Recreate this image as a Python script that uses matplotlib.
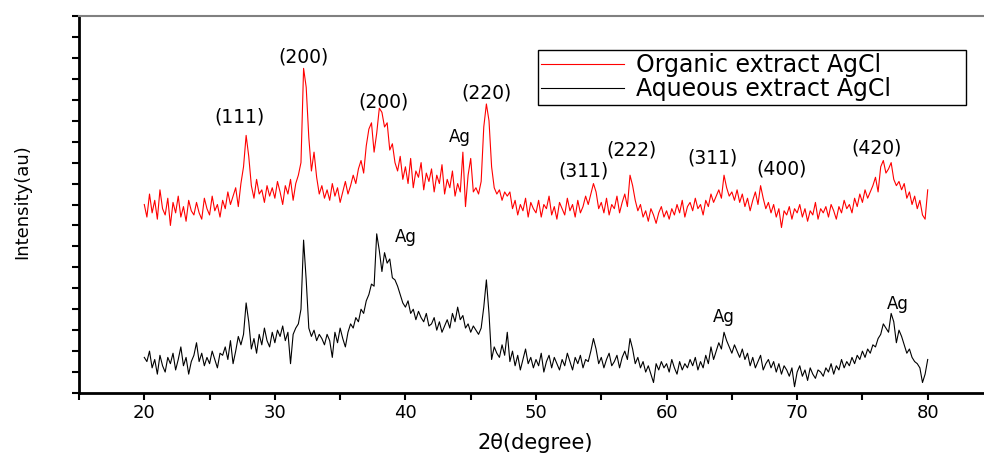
import numpy as np
import matplotlib
matplotlib.use("Agg")
import matplotlib.pyplot as plt

plt.rcParams['font.family'] = ['DejaVu Sans']

# 2-theta scan grid (degrees), 0.2 deg step
two_theta = np.linspace(20.0, 80.0, 301)

organic = [
    90, 84, 95, 86, 92, 83, 97, 88, 85, 93,
    80, 91, 86, 94, 84, 89, 82, 92, 87, 85,
    91, 86, 83, 93, 88, 85, 94, 87, 90, 84,
    92, 88, 96, 90, 94, 98, 89, 100, 108, 123,
    113, 99, 93, 102, 95, 97, 91, 99, 94, 98,
    93, 101, 96, 90, 99, 95, 102, 92, 100, 104,
    110, 155, 146, 122, 106, 115, 103, 95, 99, 93,
    97, 92, 100, 94, 98, 91, 96, 101, 95, 99,
    104, 100, 107, 111, 105, 118, 126, 129, 115, 124,
    136, 134, 127, 129, 116, 119, 110, 106, 113, 102,
    108, 100, 112, 98, 106, 103, 110, 97, 105, 101,
    107, 96, 104, 100, 109, 95, 102, 98, 106, 94,
    100, 96, 115, 89, 104, 112, 96, 98, 95, 101,
    127, 138, 130, 108, 98, 95, 97, 92, 96, 94,
    96, 88, 92, 85, 90, 87, 93, 84, 91, 88,
    86, 92, 84, 90, 88, 94, 85, 89, 83, 91,
    88, 85, 93, 87, 90, 84, 92, 86, 89, 94,
    90, 95, 100, 96, 88, 91, 86, 93, 85, 90,
    88, 94, 86, 91, 95, 89, 104, 99, 92, 87,
    90, 84, 87, 82, 88, 85, 81, 86, 89, 84,
    87, 83, 88, 85, 90, 86, 92, 84, 89, 91,
    87, 93, 88, 90, 85, 92, 89, 95, 91, 94,
    97, 93, 104, 98, 94, 96, 92, 97, 91, 95,
    89, 93, 87, 92, 96, 90, 99, 93, 88, 91,
    86, 90, 84, 88, 79, 87, 85, 89, 83, 88,
    86, 90, 84, 88, 82, 87, 85, 91, 83, 88,
    86, 89, 84, 90, 87, 83, 89, 86, 92, 88,
    90, 86, 93, 89, 95, 91, 97, 93, 96, 99,
    103, 96, 108, 111, 105, 107, 110, 102, 99, 101,
    97, 100, 93, 96, 90, 94, 88, 92, 85, 83,
    97,
]

aqueous = [
    17, 15, 20, 12, 16, 9, 18, 13, 10, 17,
    14, 19, 11, 16, 22, 13, 17, 9, 15, 18,
    24, 15, 19, 13, 17, 14, 20, 16, 12, 19,
    18, 22, 16, 25, 14, 20, 27, 23, 28, 43,
    34, 21, 26, 19, 28, 23, 31, 25, 22, 29,
    24, 30, 27, 32, 25, 29, 14, 28, 31, 33,
    40, 73, 54, 31, 27, 30, 25, 28, 26, 23,
    28, 25, 17, 29, 24, 31, 26, 22, 29, 33,
    31, 36, 34, 40, 38, 44, 47, 52, 51, 76,
    68, 58, 67, 62, 64, 55, 54, 51, 47, 43,
    41, 44, 38, 40, 35, 39, 36, 34, 38, 32,
    33, 36, 30, 34, 29, 32, 35, 31, 38, 34,
    41, 35, 37, 31, 33, 29, 32, 30, 28, 31,
    41, 54, 38, 16, 22, 19, 17, 23, 18, 29,
    15, 20, 13, 18, 11, 16, 21, 14, 17, 12,
    16, 13, 19, 10, 15, 18, 12, 17, 14, 11,
    16, 13, 19, 15, 11, 17, 14, 18, 12, 16,
    15, 20, 26, 21, 14, 17, 12, 16, 19, 13,
    15, 18, 12, 17, 20, 16, 26, 21, 14, 17,
    12, 15, 10, 13, 9, 5, 14, 11, 15, 12,
    14, 10, 16, 12, 9, 15, 11, 14, 12, 16,
    13, 17, 11, 15, 12, 18, 14, 22, 16, 20,
    24, 21, 29, 25, 22, 19, 23, 20, 17, 21,
    16, 19, 13, 17, 12, 15, 18, 11, 14, 16,
    12, 15, 10, 14, 9, 13, 11, 8, 12, 3,
    10, 13, 8, 11, 6, 12, 9, 7, 11, 10,
    8, 12, 10, 14, 9, 13, 11, 16, 12, 15,
    13, 17, 14, 18, 16, 20, 17, 21, 19, 23,
    22, 26, 28, 33, 31, 29, 38, 34, 24, 30,
    27, 23, 19, 21, 17, 15, 14, 12, 5, 9,
    16,
]

series_labels = ["Organic extract AgCl", "Aqueous extract AgCl"]
series_colors = ["#ff0000", "#000000"]

# peak annotations: (text, 2theta, intensity)
organic_peaks = [
    ("(111)", 27.3, 132), ("(200)", 32.2, 160.5), ("(200)", 38.3, 139),
    ("Ag", 44.2, 122), ("(220)", 46.2, 143), ("(311)", 53.6, 106),
    ("(222)", 57.3, 116), ("(311)", 63.5, 112), ("(400)", 68.8, 107),
    ("(420)", 76.1, 117),
]
aqueous_peaks = [("Ag", 40.0, 74.5), ("Ag", 64.4, 36.3), ("Ag", 77.7, 42.5)]

x_major = [20, 30, 40, 50, 60, 70, 80]
x_minor = [15, 25, 35, 45, 55, 65, 75, 85]

fig = plt.figure(figsize=(9.84, 4.55), dpi=100)
ax = fig.add_axes([79 / 984, 62 / 455, 914 / 984, 377 / 455])

ax.plot(two_theta, organic, color=series_colors[0], lw=0.8, label=series_labels[0])
ax.plot(two_theta, aqueous, color=series_colors[1], lw=0.8, label=series_labels[1])

for txt, xx, yy in organic_peaks + aqueous_peaks:
    fs = 12 if txt == "Ag" else 13.5
    ax.text(xx, yy, txt, ha="center", va="center", fontsize=fs, color="black")

ax.set_xlim(15, 85)
ax.set_ylim(0, 180)
ax.set_xticks(x_major)
ax.set_xticks(x_minor, minor=True)
ax.set_xticklabels([str(v) for v in x_major], fontsize=13)
ax.set_yticks(np.arange(0, 181, 10))
ax.set_yticklabels([])
ax.tick_params(axis="both", which="both", direction="out", length=5, width=1.5, color="black")
ax.tick_params(axis="x", which="major", pad=3)

for s in ["left", "bottom"]:
    ax.spines[s].set_linewidth(2)
    ax.spines[s].set_color("black")
ax.spines["top"].set_color("#808080")
ax.spines["top"].set_linewidth(1.5)
ax.spines["right"].set_visible(False)

ax.set_xlabel("2θ(degree)", fontsize=15)
ax.xaxis.label.set_va("center")
ax.xaxis.set_label_coords(0.499, -0.133)
ax.set_ylabel("Intensity(au)", fontsize=13)
ax.yaxis.label.set_va("center")
ax.yaxis.set_label_coords(-0.062, 0.507)

leg = ax.legend(loc="upper left", bbox_to_anchor=(0.502, 0.77, 0.469, 0.14),
                mode="expand", borderaxespad=0,
                fontsize=17, handlelength=3.5, labelspacing=0.0, borderpad=0.15,
                handletextpad=0.5, fancybox=False, framealpha=1)
leg.get_frame().set_edgecolor("black")
leg.get_frame().set_linewidth(1.0)

fig.savefig("out.png", dpi=100)
